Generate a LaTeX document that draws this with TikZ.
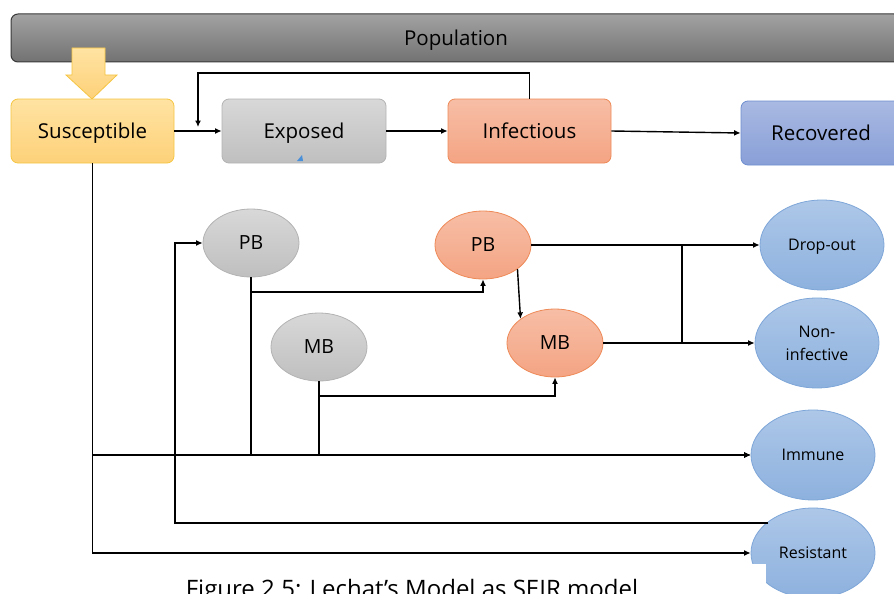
\documentclass[tikz,border=0pt]{standalone}
\usepackage{fontspec}
\setmainfont{Open Sans}
\usetikzlibrary{shapes.geometric,arrows.meta,calc}
\definecolor{popT}{HTML}{A2A2A2}
\definecolor{popB}{HTML}{727272}
\definecolor{popD}{HTML}{3A3A3A}
\definecolor{yelT}{HTML}{FFE3A2}
\definecolor{yelB}{HTML}{FDD179}
\definecolor{yelD}{HTML}{F5C542}
\definecolor{grT}{HTML}{D8D8D8}
\definecolor{grB}{HTML}{BFBFBF}
\definecolor{grD}{HTML}{B3B3B3}
\definecolor{orT}{HTML}{F7BEA6}
\definecolor{orB}{HTML}{F4A483}
\definecolor{orD}{HTML}{EE8A58}
\definecolor{blT}{HTML}{A9B9E2}
\definecolor{blB}{HTML}{889FD7}
\definecolor{blD}{HTML}{6E8ED0}
\definecolor{elT}{HTML}{ADC7E8}
\definecolor{elB}{HTML}{8DB1DE}
\definecolor{elD}{HTML}{7EA6D8}
\definecolor{tri}{HTML}{4A90D9}
\tikzset{
  box/.style={draw, rounded corners=7pt, line width=0.8pt, minimum width=163pt, minimum height=64pt, inner sep=0pt, text depth=0pt, font=\fontsize{20.5}{24}\selectfont},
  ell/.style={ellipse, draw, line width=0.8pt, inner sep=0pt, minimum width=96pt, minimum height=68pt, text depth=0pt, font=\fontsize{19.5}{23}\selectfont},
  bigell/.style={ellipse, draw=elD, top color=elT, bottom color=elB, line width=0.8pt, inner sep=0pt, minimum width=124pt, minimum height=90pt, align=center, font=\fontsize{16}{23}\selectfont},
  oneline/.style={text depth=0pt},
  grayfill/.style={draw=grD, top color=grT, bottom color=grB},
  orfill/.style={draw=orD, top color=orT, bottom color=orB},
  arr/.style={-{Latex[length=6.5pt,width=6pt]}, line width=1.4pt},
  thickline/.style={line width=2.2pt},
}
\begin{document}
\begin{tikzpicture}[x=1pt,y=-1pt]
\useasboundingbox (0,0) rectangle (894,594);
\clip (0,0) rectangle (894,594);
% population bar
\node[box, draw=popD, top color=popT, bottom color=popB, line width=1pt, minimum width=890pt, minimum height=48pt] (pop) at (456,38) {Population};
% yellow arrow
\draw[draw=yelD, top color=yelT, bottom color=yelB, line width=0.8pt] (72,48) -- (105,48) -- (105,75) -- (117,75) -- (92,99) -- (66,75) -- (72,75) -- cycle;
% boxes
\node[box, draw=yelD, top color=yelT, bottom color=yelB] (S) at (92.5,131) {Susceptible};
\node[box, grayfill, minimum width=164pt] (E) at (304,131) {Exposed};
\node[box, orfill] (I) at (529.5,131) {Infectious};
\node[box, draw=blD, top color=blT, bottom color=blB, minimum width=160pt] (Rec) at (821,133) {Recovered};
\fill[tri] (297,161) -- (303,161) -- (302,155) -- cycle;
% ellipses
\node[ell, grayfill] (PBg) at (251,243) {PB};
\node[ell, orfill] (PBo) at (483,245) {PB};
\node[ell, grayfill] (MBg) at (319,347) {MB};
\node[ell, orfill] (MBo) at (555,343) {MB};
\node[bigell, oneline] (Do) at (822,245) {Drop-out};
\node[bigell] (Ni) at (817,343) {Non-\\infective};
\node[bigell, oneline] (Im) at (813,455) {Immune};
\node[bigell, oneline] (Res) at (813,553) {Resistant};
\fill[white] (745,564) rectangle (766,594);
% caption
\node[anchor=base, font=\fontsize{24}{28}\selectfont] (cap) at (412,597) {Figure 2.5: Lechat’s Model as SEIR model};
% top row connectors
\coordinate (fb) at (198,127);
\draw[arr] (S.east) -- (E.west);
\draw[arr] (E.east) -- (I.west);
\draw[arr] (I.east) -- (Rec.west);
\draw[arr] (I.north) -- (I.north |- 0,73) -| (fb);
% susceptible branches
\draw[arr] (S.south) |- (Res.west);
\draw[arr] (S.south |- Im.west) -- (Im.west);
% resistant back to PB
\coordinate (rin) at (768,523);
\coordinate (rcorner) at (175,523);
\draw[arr] (rin) -- (rcorner) |- (PBg.west);
% PB gray
\draw[arr] (PBg.south) |- (Im.west);
\draw[arr] (PBg.south |- 0,292) -| (PBo.south);
% MB gray
\draw[arr] (MBg.south) |- (Im.west);
\draw[arr] (MBg.south |- 0,396) -| (MBo.south);
% PB orange to MB orange
\draw[arr] (PBo.-35) -- (MBo.145);
% outputs
\coordinate (j1) at (682,245);
\coordinate (j2) at (682,343);
\draw[thickline] (PBo.east) -- (j1) -- (j2) -- (MBo.east);
\draw[arr] (j1) -- (Do.west);
\draw[arr] (j2) -- (Ni.west);
\end{tikzpicture}
\end{document}
